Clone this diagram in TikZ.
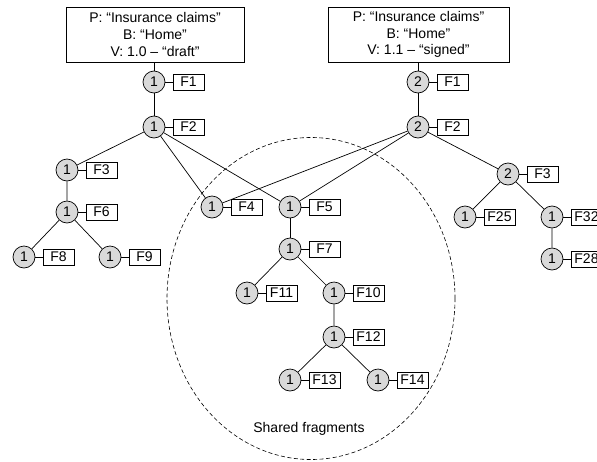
\documentclass[tikz,border=0pt]{standalone}
\usepackage{fontspec}
\setmainfont{Liberation Sans}
\begin{document}
\begin{tikzpicture}[x=1pt,y=-1pt,
  font=\fontsize{14}{16.7}\selectfont,
  frag/.style={circle,draw,fill=black!15,minimum size=22pt,inner sep=0pt,line width=0.7pt},
  fbox/.style={draw,minimum width=31pt,minimum height=16pt,inner sep=0pt,line width=0.7pt},
  vbox/.style={draw,align=center,minimum height=55pt,inner sep=0pt,line width=0.7pt},
  link/.style={line width=0.7pt},
  region/.style={dashed,dash pattern=on 4pt off 2.5pt,line width=0.6pt}]
\useasboundingbox (0,0) rectangle (597,461);

% a fragment: version circle with its labelled box
\newcommand\fragnode[5]{%
  \node[frag] (#1) at (#2,#3) {#4};
  \node[fbox] (#1-f) at (#2+34.5,#3) {#5};
  \draw[link] (#1) -- (#1-f);}

% shared region
\draw[region] (311,298.5) ellipse [x radius=144pt, y radius=161pt];
\node (shared) at (309,429) {Shared fragments};

% version headers
\node[vbox,minimum width=178pt] (vA) at (155,34.5)
  {P: “Insurance claims”\\B: “Home”\\V: 1.0 – “draft”};
\node[vbox,minimum width=181pt] (vB) at (418.5,34.5)
  {P: “Insurance claims”\\B: “Home”\\V: 1.1 – “signed”};

% left tree
\fragnode{a1}{154}{82}{1}{F1}
\fragnode{a2}{154}{127}{1}{F2}
\fragnode{a3}{67}{170}{1}{F3}
\fragnode{a6}{67}{212}{1}{F6}
\fragnode{a8}{24}{257}{1}{F8}
\fragnode{a9}{110}{257}{1}{F9}

% shared fragments
\fragnode{s4}{212}{207}{1}{F4}
\fragnode{s5}{290}{207}{1}{F5}
\fragnode{s7}{290}{249}{1}{F7}
\fragnode{s11}{247}{293}{1}{F11}
\fragnode{s10}{334}{293}{1}{F10}
\fragnode{s12}{334}{337}{1}{F12}
\fragnode{s13}{290}{380}{1}{F13}
\fragnode{s14}{378}{380}{1}{F14}

% right tree
\fragnode{b1}{418}{82}{2}{F1}
\fragnode{b2}{418}{127}{2}{F2}
\fragnode{b3}{508}{174}{2}{F3}
\fragnode{b25}{465}{217}{1}{F25}
\fragnode{b32}{552}{217}{1}{F32}
\fragnode{b28}{552}{259}{1}{F28}

% connectors
\draw[link] (vA.south -| a1) -- (a1) -- (a2);
\draw[link] (a2) -- (a3) -- (a6);
\draw[link] (a6) -- (a8);
\draw[link] (a6) -- (a9);
\draw[link] (a2) -- (s4);
\draw[link] (a2) -- (s5);

\draw[link] (vB.south -| b1) -- (b1) -- (b2);
\draw[link] (b2) -- (s4);
\draw[link] (b2) -- (s5);
\draw[link] (b2) -- (b3);
\draw[link] (b3) -- (b25);
\draw[link] (b3) -- (b32) -- (b28);

\draw[link] (s5) -- (s7);
\draw[link] (s7) -- (s11);
\draw[link] (s7) -- (s10) -- (s12);
\draw[link] (s12) -- (s13);
\draw[link] (s12) -- (s14);
\end{tikzpicture}
\end{document}
